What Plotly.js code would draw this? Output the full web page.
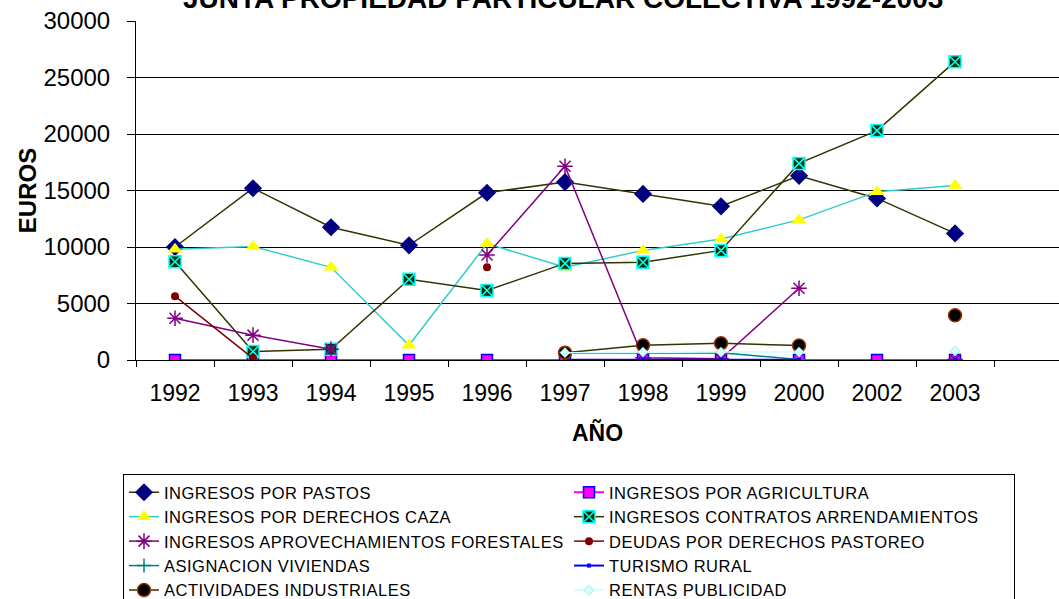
<!DOCTYPE html>
<html>
<head>
<meta charset="utf-8">
<script src="https://cdn.plot.ly/plotly-3.0.1.min.js"></script>
<style>
html,body{margin:0;padding:0;background:#fff;}
#chart{width:1059px;height:599px;}
#chart .legendtext{letter-spacing:0.5px;}
</style>
</head>
<body>
<div id="chart"></div>
<script>
const years = ['1992','1993','1994','1995','1996','1997','1998','1999','2000','2002','2003'];
const pastos = [10000, 15200, 11750, 10150, 14800, 15750, 14700, 13600, 16300, 14300, 11200];
const agricultura = [0, 0, 0, 0, 0, 0, 0, 0, 0, 0, 0];
const caza = [9800, 10050, 8200, 1300, 10300, 8200, 9700, 10700, 12400, 14900, 15450];
const arrendamientos = [8700, 750, 950, 7150, 6150, 8550, 8650, 9700, 17400, 20300, 26400];
const forestales = [3700, 2200, 950, null, 9300, 17150, 200, 100, 6350, null, 50];
const deudas = [5650, 150, null, null, 8200, null, null, null, null, null, null];
const asignacion = [null, null, null, null, null, 600, 600, 650, 50, null, null];
const turismo = [null, null, null, null, null, 30, 30, 30, 30, null, 30];
const actividades = [null, null, null, null, null, 650, 1300, 1480, 1280, null, 3950];
const rentas = [null, null, null, null, null, 650, 700, 700, 700, null, 800];

const chartTitle = 'JUNTA PROPIEDAD PARTICULAR COLECTIVA 1992-2003';
const names = ['INGRESOS POR PASTOS','INGRESOS POR AGRICULTURA','INGRESOS POR DERECHOS CAZA',
  'INGRESOS CONTRATOS ARRENDAMIENTOS','INGRESOS APROVECHAMIENTOS FORESTALES','DEUDAS POR DERECHOS PASTOREO',
  'ASIGNACION VIVIENDAS','TURISMO RURAL','ACTIVIDADES INDUSTRIALES','RENTAS PUBLICIDAD'];

function tr(y, name, lineColor, marker, lw) {
  return {x: years, y: y, name: name, type: 'scatter', mode: 'lines+markers',
    line: {color: lineColor, width: lw || 1.5}, marker: marker, connectgaps: false};
}

const data = [
  tr(pastos, names[0], '#333300', {symbol: 'diamond', size: 14, color: '#000080'}),
  tr(agricultura, names[1], '#FF00FF', {symbol: 'square', size: 11, color: '#FF00FF', line: {color: '#0000FF', width: 1.5}}, 2),
  tr(caza, names[2], '#33CCCC', {symbol: 'triangle-up', size: 13, color: '#FFFF00'}),
  tr(arrendamientos, names[3], '#333300', {symbol: 'square-x', size: 12, color: '#003300', line: {color: '#00FFFF', width: 1.5}}),
  tr(forestales, names[4], '#800080', {symbol: 'asterisk-open', size: 13, color: '#800080', line: {color: '#800080', width: 1.5}}),
  tr(deudas, names[5], '#800000', {symbol: 'circle', size: 8, color: '#800000'}),
  tr(asignacion, names[6], '#008080', {symbol: 'cross-thin-open', size: 10, color: '#008080', line: {color: '#008080', width: 1.5}}),
  tr(turismo, names[7], '#0000FF', {symbol: 'square', size: 4, color: '#0000FF'}, 2),
  tr(actividades, names[8], '#333300', {symbol: 'circle', size: 13, color: '#000000', line: {color: '#993300', width: 1.5}}),
  tr(rentas, names[9], '#CCFFFF', {symbol: 'diamond', size: 8, color: '#CCFFFF', line: {color: '#99CCCC', width: 0.5}})
];

const layout = {
  width: 1059, height: 599,
  margin: {l: 136, r: 0, t: 21, b: 239, pad: 0},
  paper_bgcolor: '#fff', plot_bgcolor: '#fff',
  font: {family: '"Liberation Sans", Arial, sans-serif', color: '#000', size: 20},
  annotations: [{text: '<b>' + chartTitle + '</b>', xref: 'paper', yref: 'paper',
    x: (563 - 136) / 923, y: 1 + 22.8 / 339, xanchor: 'center', yanchor: 'middle',
    showarrow: false, font: {family: '"Liberation Sans", Arial, sans-serif', size: 28, color: '#000'}}],
  xaxis: {type: 'category', range: [-0.5, 11.333], tickson: 'boundaries',
    ticks: 'outside', ticklen: 6, tickcolor: '#000', tickwidth: 1, ticklabelstandoff: 12,
    showline: true, linecolor: '#000', linewidth: 1, showgrid: false, zeroline: false,
    tickfont: {size: 23}, fixedrange: true,
    title: {text: '<b>AÑO</b>', font: {size: 23}, standoff: 20}},
  yaxis: {range: [0, 30000], dtick: 5000, tick0: 0, tickformat: 'd', ticksuffix: '\u2002',
    ticks: 'outside', ticklen: 8, tickcolor: '#000', tickwidth: 1,
    showline: true, linecolor: '#000', linewidth: 1,
    showgrid: true, gridcolor: '#000', gridwidth: 1, zeroline: false,
    tickfont: {size: 24}, fixedrange: true,
    title: {text: '<b>EUROS</b>', font: {size: 24}, standoff: 0}},
  showlegend: true,
  legend: {orientation: 'h', xref: 'container', yref: 'container',
    x: 123/1059, xanchor: 'left', y: 1 - 474/599, yanchor: 'top',
    entrywidth: 400, entrywidthmode: 'pixels',
    bordercolor: '#000', borderwidth: 1, bgcolor: '#fff',
    font: {size: 16.5, family: '"Liberation Sans", Arial, sans-serif', color: '#000'},
    traceorder: 'normal', tracegroupgap: 0}
};

Plotly.newPlot('chart', data, layout, {displayModeBar: false, staticPlot: true});
</script>
</body>
</html>
